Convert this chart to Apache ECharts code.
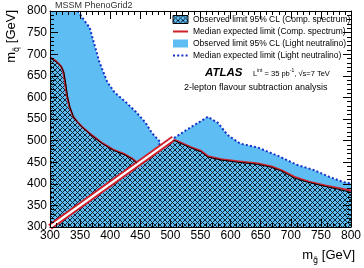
<!DOCTYPE html>
<html>
<head>
<meta charset="utf-8">
<script src="https://cdn.jsdelivr.net/npm/echarts@6/dist/echarts.min.js"></script>
<style>
  html, body { margin: 0; padding: 0; background: #fff; }
  #chart { width: 364px; height: 268px; }
</style>
</head>
<body>
<div id="chart"></div>
<script>
// contours, [m_gluino, m_squark] in GeV
const lightLeft = [[346, 800], [354, 784], [366, 761], [374, 721], [382, 682], [395, 636], [407, 612],
  [426, 589], [443, 566], [459, 541], [469, 518], [483, 497], [480, 482]];
const lightRight = [[506, 506], [534, 531], [562, 555], [579, 541], [595, 513], [616, 493], [645, 484],
  [680, 464], [710, 444], [738, 432], [764, 416], [787, 404], [800, 401]];

const compExpLeft = [[300, 693], [310, 684], [318, 673], [322, 660], [325, 635], [328, 605], [332, 580],
  [338, 557], [345, 544], [354, 531], [370, 512], [387, 494], [405, 479], [423, 469], [436, 459], [444, 450]];
const compObsLeft = [[300, 691], [311, 682], [319, 671], [323, 658], [326, 633], [329, 603], [333, 578],
  [339, 555], [346, 542], [355, 529], [371, 510], [388, 492], [406, 477], [424, 467], [437, 457], [444, 448]];
const compExpRight = [[505, 503], [534, 485], [551, 476], [562, 464], [584, 457], [611, 452], [645, 447],
  [668, 440], [685, 431], [706, 416], [730, 405], [757, 396], [780, 390], [800, 384]];
const compObsRight = [[505, 501], [534, 483], [551, 474], [562, 462], [584, 455], [611, 450], [645, 445],
  [668, 438], [685, 429], [706, 413], [730, 403], [757, 394], [780, 387], [800, 380]];

const diagonal = [[300, 300], [505, 505]];

const axisMin = 300;
const axisMax = 800;
const axisStep = 50;

const names = [
  'Observed limit 95% CL (Comp. spectrum)',
  'Median expected limit (Comp. spectrum)',
  'Observed limit 95% CL (Light neutralino)',
  'Median expected limit (Light neutralino)'
];

const BLUE = '#5ebef4';
const RED = '#d0202c';
const DOTBLUE = '#1430c8';
const FONT = 'Liberation Sans, Arial, sans-serif';

function hatch() {
  const c = document.createElement('canvas');
  c.width = 5; c.height = 5;
  const ctx = c.getContext('2d');
  ctx.fillStyle = BLUE;
  ctx.fillRect(0, 0, 5, 5);
  ctx.strokeStyle = '#0d2233';
  ctx.lineWidth = 1;
  ctx.beginPath();
  ctx.moveTo(-1, -1); ctx.lineTo(6, 6);
  ctx.moveTo(6, -1); ctx.lineTo(-1, 6);
  ctx.stroke();
  return c;
}
const hatchFill = { image: hatch(), repeat: 'repeat' };

const blueShape = [[axisMin, axisMin], [axisMin, axisMax]].concat(lightLeft, lightRight, [[axisMax, axisMin]]);
const hatchShape = [[axisMin, axisMin]].concat(compObsLeft, compObsRight, [[axisMax, axisMin]]);

function polygon(points, fill) {
  return function (params, api) {
    if (params.dataIndex > 0) return null;
    return {
      type: 'polygon',
      shape: { points: points.map(p => api.coord(p)) },
      style: { fill: fill }
    };
  };
}

function axis(pos, labels) {
  return {
    type: 'value', position: pos, min: axisMin, max: axisMax, interval: axisStep, z: 10,
    axisLine: { show: true, onZero: false, lineStyle: { color: '#000', width: 1 } },
    axisTick: { show: true, inside: true, length: 8, lineStyle: { color: '#000' } },
    minorTick: { show: true, splitNumber: 5, length: 4, lineStyle: { color: '#000' } },
    splitLine: { show: false },
    axisLabel: {
      show: labels, color: '#000', fontSize: 12, fontFamily: FONT, margin: 3,
      showMinLabel: true, showMaxLabel: true, hideOverlap: false
    }
  };
}

function line(name, data, color, width, type, z) {
  return {
    name: name, type: 'line', data: data, symbol: 'none', z: z, silent: true,
    lineStyle: { color: color, width: width, type: type },
    itemStyle: { color: color }
  };
}

const chart = echarts.init(document.getElementById('chart'));
chart.setOption({
  animation: false,
  textStyle: { fontFamily: FONT },
  grid: { left: 50, right: 9, top: 11, bottom: 41 },
  xAxis: [axis('bottom', true), axis('top', false)],
  yAxis: [axis('left', true), axis('right', false)],
  legend: {
    orient: 'vertical', left: 172, top: 15, padding: 0,
    itemWidth: 15, itemHeight: 8, itemGap: 3, itemTextGap: 3,
    textStyle: { fontSize: 8.5, color: '#000', fontFamily: FONT },
    data: [
      { name: names[0], icon: 'rect', itemStyle: { color: hatchFill, borderColor: '#000', borderWidth: 1 } },
      { name: names[1], itemStyle: { opacity: 0 } },
      { name: names[2], icon: 'rect', itemStyle: { color: BLUE } },
      { name: names[3], itemStyle: { opacity: 0 } }
    ]
  },
  series: [
    { name: names[2], type: 'custom', data: blueShape, renderItem: polygon(blueShape, BLUE),
      itemStyle: { color: BLUE }, z: 1, silent: true },
    { name: names[0], type: 'custom', data: hatchShape, renderItem: polygon(hatchShape, hatchFill),
      itemStyle: { color: hatchFill }, z: 2, silent: true },
    line(names[3], lightLeft, DOTBLUE, 2, [2, 2.2], 3),
    line(names[3], lightRight, DOTBLUE, 2, [2, 2.2], 3),
    line('diag', diagonal, RED, 6, 'solid', 4),
    line('diagWhite', diagonal, '#fff', 2.2, 'solid', 5),
    line(names[1], compExpLeft, RED, 2, 'solid', 4),
    line(names[1], compExpRight, RED, 2, 'solid', 4),
    line(names[0], compObsLeft, '#000', 1, 'solid', 5),
    line(names[0], compObsRight, '#000', 1, 'solid', 5)
  ],
  graphic: [
    { type: 'text', x: 55, y: 6, z: 20, style: { text: 'MSSM PhenoGrid2', fontSize: 9, fontFamily: FONT, fill: '#333',
      verticalAlign: 'middle', textVerticalAlign: 'middle' } },
    { type: 'text', x: 205, y: 73, z: 20, style: { text: 'ATLAS', fontSize: 11.5, fontWeight: 'bold', fontStyle: 'italic',
      fontFamily: FONT, fill: '#000', verticalAlign: 'middle', textVerticalAlign: 'middle' } },
    { type: 'text', x: 253, y: 73, z: 20, style: {
      text: '{n|L}{s|int}{n| = 35 pb}{s|-1}{n|, √s=7 TeV}',
      verticalAlign: 'middle', textVerticalAlign: 'middle',
      rich: {
        n: { fontSize: 7.5, fontFamily: FONT, fill: '#000', verticalAlign: 'bottom' },
        s: { fontSize: 5, fontFamily: FONT, fill: '#000', verticalAlign: 'bottom', padding: [0, 0, 4, 0] }
      } } },
    { type: 'text', x: 184, y: 88, z: 20, style: { text: '2-lepton flavour subtraction analysis', fontSize: 9,
      fontFamily: FONT, fill: '#000', verticalAlign: 'middle', textVerticalAlign: 'middle' } },
    { type: 'text', x: 355, y: 257, z: 20, style: {
      text: '{n|m}{s|g̃}{n| [GeV]}', align: 'right', textAlign: 'right', verticalAlign: 'middle', textVerticalAlign: 'middle',
      rich: {
        n: { fontSize: 13, fontFamily: FONT, fill: '#000', verticalAlign: 'bottom', padding: [0, 0, 3, 0] },
        s: { fontSize: 8, fontFamily: 'DejaVu Sans, sans-serif', fill: '#000', verticalAlign: 'bottom' }
      } } },
    { type: 'text', x: 13, y: 10, rotation: Math.PI / 2, z: 20, style: {
      text: '{n|m}{s|q̃}{n| [GeV]}', align: 'right', textAlign: 'right', verticalAlign: 'middle', textVerticalAlign: 'middle',
      rich: {
        n: { fontSize: 13, fontFamily: FONT, fill: '#000', verticalAlign: 'bottom', padding: [0, 0, 3, 0] },
        s: { fontSize: 8, fontFamily: 'DejaVu Sans, sans-serif', fill: '#000', verticalAlign: 'bottom' }
      } } }
  ]
});
</script>
</body>
</html>
